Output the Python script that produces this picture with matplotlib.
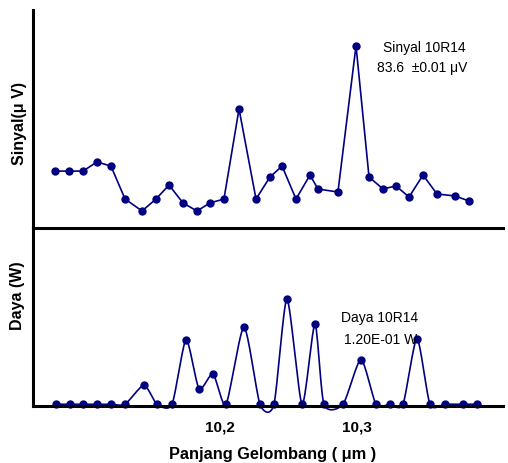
import numpy as np
import matplotlib
matplotlib.use("Agg")
import matplotlib.pyplot as plt

plt.rcParams['font.family'] = ['Liberation Sans', 'DejaVu Sans']

# ---- data ----
sig_x = [10.0796, 10.0898, 10.1000, 10.1102, 10.1204, 10.1307, 10.1431, 10.1533,
         10.1628, 10.1730, 10.1832, 10.1927, 10.2029, 10.2139, 10.2263, 10.2365,
         10.2453, 10.2555, 10.2657, 10.2715, 10.2861, 10.2993, 10.3088, 10.3190,
         10.3285, 10.3380, 10.3482, 10.3584, 10.3715, 10.3818]
sig_y = [26.1, 26.1, 26.1, 30.3, 28.4, 13.3, 7.8, 13.3, 19.7, 11.5, 7.8, 11.5,
         13.3, 54.6, 13.3, 23.4, 28.4, 13.3, 24.3, 17.9, 16.5, 83.6, 23.4, 17.9,
         19.3, 14.2, 24.3, 15.6, 14.7, 12.4]

pow_x = [10.0803, 10.0905, 10.1000, 10.1102, 10.1204, 10.1307, 10.1445, 10.1540,
         10.1650, 10.1752, 10.1847, 10.1949, 10.2044, 10.2175, 10.2292, 10.2394,
         10.2489, 10.2599, 10.2693, 10.2759, 10.2898, 10.3029, 10.3139, 10.3241,
         10.3336, 10.3438, 10.3533, 10.3642, 10.3774, 10.3876]
pow_y = [0.002, 0.002, 0.002, 0.002, 0.002, 0.002, 0.0233, 0.002, 0.002, 0.0742,
         0.0194, 0.036, 0.002, 0.0884, 0.002, 0.002, 0.120, 0.002, 0.0921, 0.002,
         0.002, 0.052, 0.002, 0.002, 0.002, 0.0756, 0.002, 0.002, 0.002, 0.002]

tick_vals = [10.2, 10.3]
tick_labels = ["10,2", "10,3"]

COLOR = '#000080'


def smooth(x, y, n=16, k=0.7):
    """Cardinal-spline rendering of a line through the data points."""
    P = np.column_stack([x, y]).astype(float)
    P = np.vstack([P[0], P, P[-1]])
    out = []
    t = np.linspace(0, 1, n, endpoint=False)[:, None]
    h00 = 2 * t ** 3 - 3 * t ** 2 + 1
    h10 = t ** 3 - 2 * t ** 2 + t
    h01 = -2 * t ** 3 + 3 * t ** 2
    h11 = t ** 3 - t ** 2
    for i in range(1, len(P) - 2):
        p0, p1, p2, p3 = P[i - 1], P[i], P[i + 1], P[i + 2]
        m1 = k * (p2 - p0) / 2
        m2 = k * (p3 - p1) / 2
        out.append(h00 * p1 + h10 * m1 + h01 * p2 + h11 * m2)
    out.append(P[-2][None, :])
    out = np.vstack(out)
    return out[:, 0], out[:, 1]


W, H = 508, 463
fig = plt.figure(figsize=(W / 100, H / 100), dpi=100)

left = 33 / W
width = 470 / W
ax1 = fig.add_axes([left, 1 - 228 / H, width, 218 / H])
ax2 = fig.add_axes([left, 1 - 406 / H, width, 178 / H])

xlim = (10.0635, 10.4066)

for ax in (ax1, ax2):
    ax.set_xlim(*xlim)
    for s in ('top', 'right'):
        ax.spines[s].set_visible(False)
    for s in ('left', 'bottom'):
        ax.spines[s].set_linewidth(2.2)
        ax.spines[s].set_color('black')
    ax.set_yticks([])
    ax.set_facecolor('none')

# top panel
ax1.set_ylim(0, 100)
ax1.plot(sig_x, sig_y, color=COLOR, lw=1.2, marker='o', ms=5, mfc=COLOR, mec=COLOR)
ax1.set_xticks([])
ax1.set_ylabel("Sinyal(μ V)", fontsize=11.5, fontweight='bold')
ax1.yaxis.set_label_coords(-0.013, 0.48)
ax1.text(0.832, 0.826, "Sinyal 10R14", transform=ax1.transAxes,
         ha='center', va='center', fontsize=10)
ax1.text(0.828, 0.734, "83.6  ±0.01 μV", transform=ax1.transAxes,
         ha='center', va='center', fontsize=10)

# bottom panel
ax2.set_ylim(0, 0.2)
sx, sy = smooth(pow_x, pow_y)
ax2.plot(sx, sy, color=COLOR, lw=1.2, clip_on=False)
ax2.plot(pow_x, pow_y, ls='none', marker='o', ms=5, mfc=COLOR, mec=COLOR, clip_on=False)
ax2.set_xticks(tick_vals)
ax2.set_xticklabels(tick_labels, fontsize=11, fontweight='bold')
ax2.tick_params(axis='x', length=0, pad=10.5)
ax2.set_ylabel("Daya (W)", fontsize=11.5, fontweight='bold')
ax2.yaxis.set_label_coords(-0.017, 0.62)
ax2.set_xlabel("Panjang Gelombang ( μm )", fontsize=11.8, fontweight='bold')
ax2.xaxis.set_label_coords(0.51, -0.228)
ax2.text(0.738, 0.494, "Daya 10R14", transform=ax2.transAxes,
         ha='center', va='center', fontsize=10)
ax2.text(0.740, 0.371, "1.20E-01 W", transform=ax2.transAxes,
         ha='center', va='center', fontsize=10)

fig.savefig("out.png", dpi=100)
